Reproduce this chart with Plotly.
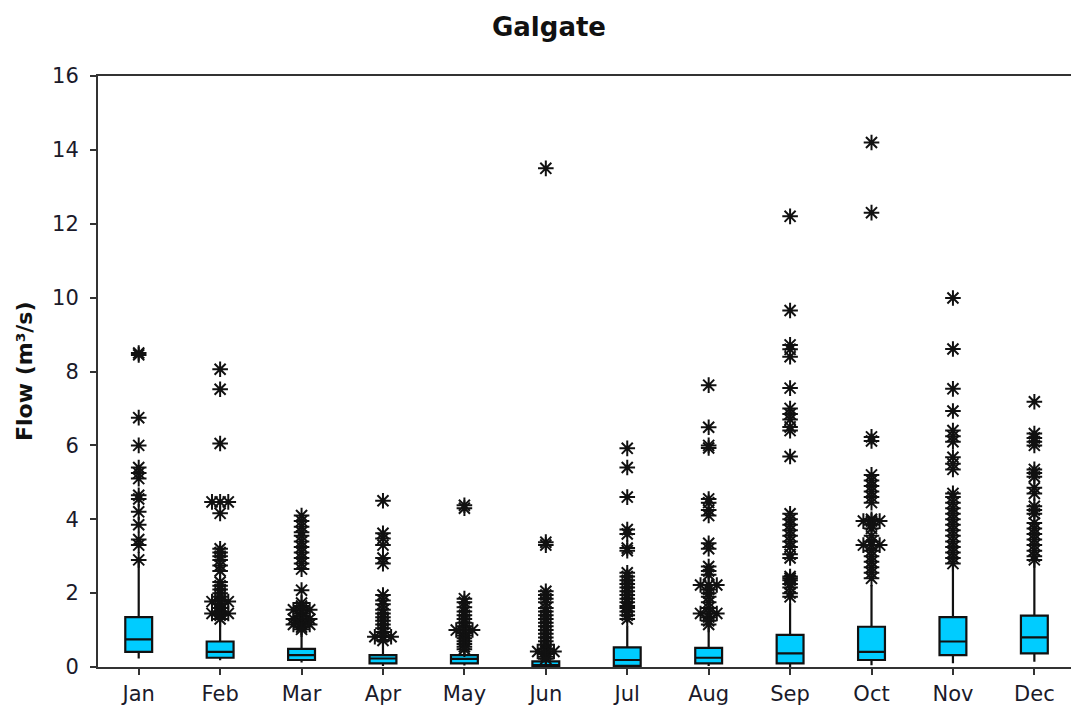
import plotly.graph_objects as go
from collections import Counter

months = ["Jan", "Feb", "Mar", "Apr", "May", "Jun",
          "Jul", "Aug", "Sep", "Oct", "Nov", "Dec"]

# Box statistics per month (m3/s)
lower_whisker = [0.23, 0.18, 0.12, 0.03, 0.04, 0.00, 0.00, 0.03, 0.00, 0.05, 0.10, 0.14]
q1 =            [0.41, 0.25, 0.19, 0.10, 0.10, 0.01, 0.03, 0.10, 0.10, 0.19, 0.32, 0.37]
median =        [0.75, 0.41, 0.32, 0.23, 0.22, 0.05, 0.19, 0.25, 0.37, 0.41, 0.69, 0.80]
q3 =            [1.35, 0.69, 0.49, 0.32, 0.32, 0.15, 0.53, 0.52, 0.87, 1.09, 1.35, 1.39]
upper_whisker = [2.85, 1.25, 1.00, 0.68, 0.45, 0.20, 1.10, 1.05, 1.72, 2.22, 2.72, 2.81]

# Outlying flows per month
out_jan = [8.5, 8.45, 6.75, 6.0, 5.4, 5.25, 5.1, 4.65, 4.55, 4.2, 3.85, 3.45, 3.3, 2.9]
out_feb = [8.06, 7.52, 6.05, 4.47, 4.47, 4.47, 4.16, 3.2, 3.1, 3.0, 2.9, 2.75, 2.6,
           2.3, 2.2, 2.1, 2.0, 1.9, 1.8, 1.77, 1.77, 1.77, 1.7, 1.6, 1.5,
           1.45, 1.45, 1.45, 1.4, 1.3]
out_mar = [4.1, 3.95, 3.8, 3.65, 3.55, 3.4, 3.25, 3.1, 2.95, 2.8, 2.65, 2.08,
           1.73, 1.65, 1.55, 1.55, 1.55, 1.45, 1.38, 1.3, 1.3, 1.3, 1.22,
           1.15, 1.15, 1.15, 1.08, 1.02]
out_apr = [4.5, 3.62, 3.48, 3.3, 2.95, 2.8, 1.95, 1.8, 1.7, 1.55, 1.45, 1.35,
           1.25, 1.15, 1.05, 0.95, 0.82, 0.82, 0.82, 0.72]
out_may = [4.38, 4.3, 1.85, 1.75, 1.62, 1.5, 1.4, 1.3, 1.2, 1.1, 1.0, 1.0, 1.0,
           0.92, 0.85, 0.78, 0.7, 0.62, 0.55, 0.48]
out_jun = [13.5, 3.38, 3.3, 2.05, 1.95, 1.85, 1.75, 1.6, 1.5, 1.4, 1.3, 1.2, 1.1,
           1.0, 0.9, 0.8, 0.7, 0.6, 0.5, 0.42, 0.42, 0.42, 0.35, 0.28, 0.22]
out_jul = [5.92, 5.4, 4.6, 3.72, 3.6, 3.22, 3.15, 2.55, 2.45, 2.35, 2.25, 2.15,
           2.05, 1.95, 1.85, 1.75, 1.65, 1.6, 1.5, 1.4, 1.3]
out_aug = [7.63, 6.49, 6.0, 5.93, 4.55, 4.45, 4.25, 4.1, 3.35, 3.2, 2.72, 2.6,
           2.5, 2.22, 2.22, 2.22, 2.1, 2.0, 1.9, 1.75, 1.6, 1.45, 1.45, 1.45,
           1.35, 1.25, 1.15]
out_sep = [12.2, 9.65, 8.72, 8.6, 8.4, 7.55, 7.0, 6.85, 6.7, 6.5, 6.4, 5.7,
           4.15, 4.0, 3.85, 3.7, 3.55, 3.4, 3.25, 3.05, 2.95, 2.45, 2.4, 2.35,
           2.25, 2.15, 2.0, 1.9]
out_oct = [14.2, 12.3, 6.23, 6.12, 5.2, 5.05, 4.9, 4.75, 4.6, 4.45, 4.0, 3.95,
           3.95, 3.95, 3.85, 3.75, 3.55, 3.4, 3.3, 3.3, 3.3, 3.15, 3.0, 2.85,
           2.7, 2.55, 2.4]
out_nov = [9.99, 8.61, 7.53, 6.93, 6.4, 6.25, 6.1, 5.68, 5.5, 5.35, 4.7, 4.6,
           4.45, 4.3, 4.15, 4.0, 3.85, 3.7, 3.55, 3.4, 3.25, 3.1, 2.95, 2.8]
out_dec = [7.18, 6.32, 6.2, 6.1, 6.0, 5.35, 5.25, 5.15, 4.85, 4.7, 4.35, 4.25,
           4.15, 3.9, 3.75, 3.6, 3.45, 3.3, 3.15, 3.0, 2.9]

outliers = [out_jan, out_feb, out_mar, out_apr, out_may, out_jun,
            out_jul, out_aug, out_sep, out_oct, out_nov, out_dec]

BOX_FILL = "#00CCFF"
INK = "#111111"

fig = go.Figure()

# Boxes from precomputed statistics
fig.add_trace(go.Box(
    x=list(range(len(months))),
    q1=q1, median=median, q3=q3,
    lowerfence=lower_whisker, upperfence=upper_whisker,
    boxpoints=False,
    width=0.33,
    fillcolor=BOX_FILL,
    line=dict(color=INK, width=2.2),
    whiskerwidth=0,
    showlegend=False,
    hoverinfo="skip",
))

# Outliers: repeated values are laid out side by side
ox, oy = [], []
for i, vals in enumerate(outliers):
    counts = Counter(vals)
    seen = Counter()
    for v in vals:
        n = counts[v]
        k = seen[v]
        seen[v] += 1
        ox.append(i + (k - (n - 1) / 2) * 0.1)
        oy.append(v)

fig.add_trace(go.Scatter(
    x=ox, y=oy, mode="markers",
    marker=dict(symbol="asterisk-open", size=13,
                line=dict(color=INK, width=2), color=INK),
    showlegend=False, hoverinfo="skip",
))

tick_font = dict(family="DejaVu Sans", size=21, color="#1a1a2a")

fig.update_layout(
    width=1071, height=710,
    margin=dict(l=98, r=0, t=76, b=43),
    paper_bgcolor="white", plot_bgcolor="white",
    title=dict(text="<b>Galgate</b>", x=549 / 1071, xanchor="center",
               xref="container", y=1 - 27 / 710, yref="container",
               yanchor="middle",
               font=dict(family="DejaVu Sans", size=26, color="#111111")),
    xaxis=dict(
        range=[-0.5, 11.45],
        tickmode="array", tickvals=list(range(len(months))), ticktext=months,
        showline=True, linecolor="#333333", linewidth=2, mirror=True,
        ticks="outside", ticklen=6, tickwidth=1.5, tickcolor="#333333",
        showgrid=False, zeroline=False, tickfont=tick_font,
        ticklabelstandoff=1,
    ),
    yaxis=dict(
        range=[0, 16], dtick=2,
        showline=True, linecolor="#333333", linewidth=2,
        ticks="outside", ticklen=6, tickwidth=1.5, tickcolor="#333333",
        showgrid=False, zeroline=False, tickfont=tick_font,
        ticklabelstandoff=7,
    ),
    annotations=[dict(
        text="<b>Flow (m³/s)</b>", textangle=-90,
        xref="paper", yref="paper",
        x=(24 - 98) / 973, y=(667 - 372) / 591,
        xanchor="center", yanchor="middle", showarrow=False,
        font=dict(family="DejaVu Sans", size=22, color="#111111"),
    )],
)

fig.write_html("out.html")
